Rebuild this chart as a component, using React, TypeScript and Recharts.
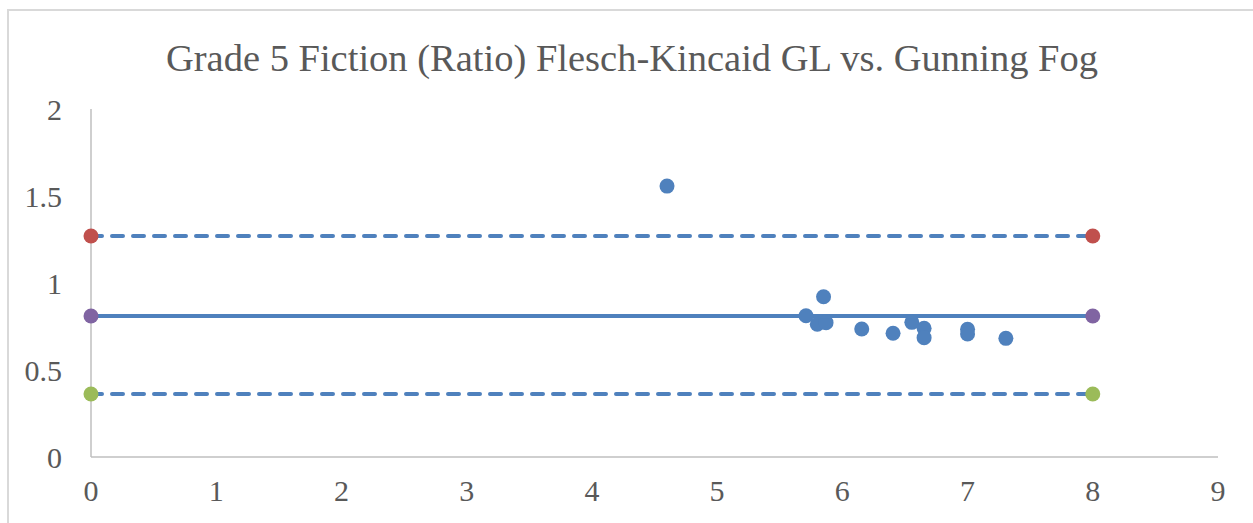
import React from 'react';
import { ScatterChart, Scatter, XAxis, YAxis } from 'recharts';

const ratioPoints = [
  { x: 4.6, y: 1.557 },
  { x: 5.71, y: 0.812 },
  { x: 5.85, y: 0.921 },
  { x: 5.8, y: 0.763 },
  { x: 5.87, y: 0.772 },
  { x: 6.155, y: 0.736 },
  { x: 6.405, y: 0.711 },
  { x: 6.555, y: 0.774 },
  { x: 6.653, y: 0.74 },
  { x: 6.653, y: 0.686 },
  { x: 7.0, y: 0.734 },
  { x: 7.0, y: 0.707 },
  { x: 7.306, y: 0.682 },
];

const upperLimit = [{ x: 0, y: 1.27 }, { x: 8, y: 1.27 }];
const meanLine = [{ x: 0, y: 0.81 }, { x: 8, y: 0.81 }];
const lowerLimit = [{ x: 0, y: 0.362 }, { x: 8, y: 0.362 }];

const xTicks = [0, 1, 2, 3, 4, 5, 6, 7, 8, 9];
const yTicks = [0, 0.5, 1, 1.5, 2];

const BLUE = '#4F81BD';
const font = '"Liberation Serif", "Times New Roman", serif';
const textColor = '#595959';

const dot = (color: string) => (p: any) => (
  <circle cx={p.cx} cy={p.cy} r={7.5} fill={color} />
);

export default function App() {
  return (
    <div
      style={{
        position: 'fixed',
        left: 7,
        top: 9,
        width: 1260,
        height: 530,
        border: '2px solid #d9d9d9',
        boxSizing: 'border-box',
        background: '#fff',
        fontFamily: font,
      }}
    >
      <div
        style={{
          position: 'absolute',
          top: 26,
          left: 0,
          width: 1246,
          textAlign: 'center',
          fontSize: 38.5,
          color: textColor,
          fontFamily: font,
          lineHeight: '42px',
        }}
      >
        Grade 5 Fiction (Ratio) Flesch-Kincaid GL vs. Gunning Fog
      </div>
      <ScatterChart
        width={1256}
        height={526}
        margin={{ top: 98, right: 47, left: 22, bottom: 20 }}
        style={{ position: 'absolute', left: 0, top: 0 }}
      >
        <XAxis
          type="number"
          dataKey="x"
          domain={[0, 9]}
          ticks={xTicks}
          interval={0}
          tickLine={false}
          tickSize={0}
          tickMargin={23}
          height={60}
          axisLine={{ stroke: '#bfbfbf', strokeWidth: 1.5 }}
          tick={{ fill: textColor, fontSize: 30, fontFamily: font }}
        />
        <YAxis
          type="number"
          dataKey="y"
          domain={[0, 2]}
          ticks={yTicks}
          interval={0}
          tickLine={false}
          tickSize={0}
          tickMargin={29}
          width={60}
          axisLine={{ stroke: '#bfbfbf', strokeWidth: 1.5 }}
          tick={{ fill: textColor, fontSize: 30, fontFamily: font }}
        />
        <Scatter
          data={upperLimit}
          line={{ stroke: BLUE, strokeWidth: 4, strokeDasharray: '11 10', strokeLinecap: 'round' }}
          shape={dot('#C0504D')}
          isAnimationActive={false}
        />
        <Scatter
          data={meanLine}
          line={{ stroke: BLUE, strokeWidth: 4 }}
          shape={dot('#8064A2')}
          isAnimationActive={false}
        />
        <Scatter
          data={lowerLimit}
          line={{ stroke: BLUE, strokeWidth: 4, strokeDasharray: '11 10', strokeLinecap: 'round' }}
          shape={dot('#9BBB59')}
          isAnimationActive={false}
        />
        <Scatter data={ratioPoints} shape={dot(BLUE)} isAnimationActive={false} />
      </ScatterChart>
    </div>
  );
}
